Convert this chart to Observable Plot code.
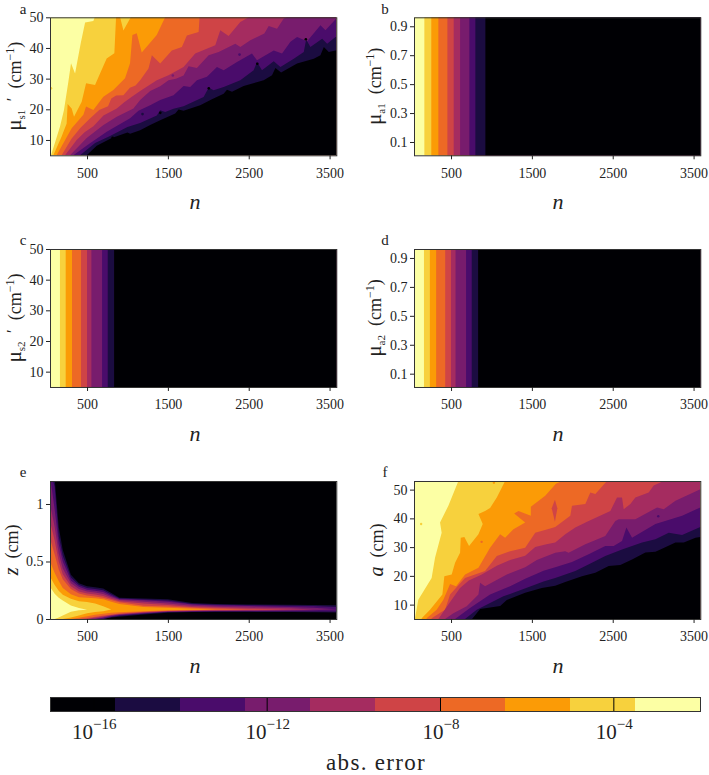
<!DOCTYPE html>
<html>
<head>
<meta charset="utf-8">
<script src="https://cdn.jsdelivr.net/npm/d3@7"></script>
<script src="https://cdn.jsdelivr.net/npm/@observablehq/plot@0.6"></script>
<style>
html,body{margin:0;padding:0;background:#fff;}
#page{position:relative;width:709px;height:775px;overflow:hidden;font-family:"Liberation Serif",serif;color:#222;}
#page svg{position:absolute;overflow:visible;background:transparent;}
#page svg text{font-family:"Liberation Serif",serif;}
</style>
</head>
<body>
<div id="page"></div>
<script>
// Band colours, darkest (lowest error) to lightest
const bandColors = ["#000004","#1b0c41","#4a0c6b","#781c6d","#a52c60","#cf4446","#ed6925","#fb9b06","#f7d13d","#fcffa4"];
const nTicks = [500,1500,2500,3500];
const nDomain = [42,3583];

// Panel a: upper edge of each band, lightest boundary first, as [n, value]
const a1 = [[55,5],[166,14.4],[215,19.8],[269,29],[302,35],[352,31.7],[422,41.5],[476,48.3],[578,48.8],[595,50]];
const a2 = [[83,5],[186,11.1],[248,15.4],[260,21.7],[310,20.3],[339,17.6],[434,22.5],[488,28.5],[599,27.9],[661,31.7],[743,36.6],[838,38.3],[859,50],[909,50],[950,45.7],[1041,50]];
const a3 = [[124,5],[310,13.8],[455,18.2],[488,20.9],[578,19.8],[702,24.1],[826,26.3],[970,30.1],[1032,35],[1061,44.2],[1115,44.8],[1177,38.5],[1362,44.2],[1466,50]];
const a4 = [[186,5],[310,10.5],[420,14],[530,16.8],[650,19.8],[760,21],[800,23.5],[860,24.5],[950,24.6],[1030,27],[1100,27.8],[1157,29.5],[1260,33.3],[1302,37.6],[1405,34.9],[1549,39.2],[1673,40.3],[1735,44.1],[1880,45.2],[1892,50]];
const a5 = [[228,5],[372,10],[470,12.5],[579,14.5],[703,18],[868,20.3],[960,22.3],[1050,24],[1157,26],[1363,29.5],[1508,31.1],[1694,33.8],[1838,38.2],[2086,40.9],[2148,45.8],[2251,43.9],[2396,48.5],[2500,50]];
const a6 = [[290,5],[496,10.6],[703,14.9],[868,17.6],[1074,20.3],[1157,23],[1281,26],[1405,27.5],[1508,29.5],[1600,30],[1694,31],[1756,34],[1859,33.5],[2004,37.6],[2128,38.7],[2334,41.4],[2396,40.3],[2520,42.5],[2693,44.7],[2747,47.2],[2850,46.3],[2933,49.6],[2974,50]];
const a7 = [[331,5],[537,8.9],[744,12.7],[888,14.9],[1033,17.1],[1136,19.5],[1281,21.3],[1405,23],[1570,24.6],[1694,27.6],[1776,27.3],[1859,29.5],[1983,30.6],[2107,33.8],[2190,32.7],[2355,35.4],[2540,38.2],[2602,36],[2809,39.2],[2912,38.2],[3016,42],[3098,43.6],[3222,42.2],[3387,47.4],[3449,45.8],[3583,49.6]];
const a8 = [[414,5],[600,9],[785,11.3],[1000,14.2],[1157,15.5],[1363,18],[1405,19.7],[1467,19.1],[1570,20.2],[1694,21],[1942,24],[2004,27],[2066,26.2],[2190,27.3],[2396,29.5],[2561,32.7],[2602,35.4],[2664,32.7],[2809,35.7],[2892,33.8],[3057,36.5],[3181,38.7],[3210,42.8],[3263,40.3],[3408,43],[3470,41.4],[3573,43.6]];
const a9 = [[496,5],[620,8.1],[806,10.6],[1000,12.4],[1033,12],[1157,13.2],[1281,14.9],[1405,16.4],[1591,18.6],[1632,19.9],[1694,19.5],[1900,21.3],[2045,23.3],[2190,25.1],[2231,26.4],[2293,25.7],[2437,27.6],[2685,29.5],[2788,31.1],[2830,33.5],[2900,32],[3098,34.9],[3305,36.5],[3387,37.6],[3429,40.3],[3490,38.7],[3573,39.2]];
const aSpecks = [[810,10.9,"#000004"],[1180,18.6,"#1b0c41"],[1400,19,"#000004"],[2000,27,"#000004"],[2600,35,"#000004"],[3200,43,"#000004"],[1555,31.2,"#781c6d"],[2380,38,"#4a0c6b"],[48,27,"#f7d13d"]];

// Panels b, c, d: n where each vertical band ends, lightest first
const bEdges = [170,256,343,455,533,612,727,801,925];
const cEdges = [165,236,314,426,500,554,686,756,835];
const dEdges = [165,238,316,428,500,556,686,756,835];

// Panel e: n grid, then upper and lower edge of each level, outermost first
const eN = [42,100,150,200,300,400,500,600,700,800,900,1200,1500,1800,2100,2500,3000,3300,3585];
const eUp1 = [1.3,1.22,.8,.6,.385,.31,.285,.275,.265,.225,.185,.178,.172,.14,.13,.127,.124,.122,.12];
const eUp2 = [1.3,1.15,.72,.55,.36,.295,.27,.26,.25,.212,.178,.17,.16,.13,.124,.12,.115,.112,.105];
const eUp3 = [1.25,.95,.65,.5,.335,.28,.255,.245,.235,.2,.172,.162,.15,.125,.118,.112,.105,.098,.085];
const eUp4 = [1,.8,.57,.44,.31,.26,.24,.23,.218,.188,.165,.15,.135,.115,.107,.1,.093,.082,.082];
const eUp5 = [.85,.68,.5,.39,.285,.24,.222,.212,.2,.175,.155,.135,.122,.105,.097,.09,.082,.082,.082];
const eUp6 = [.7,.56,.43,.345,.26,.222,.205,.195,.185,.165,.145,.115,.108,.097,.09,.082,.082,.082,.082];
const eUp7 = [.5,.4,.33,.27,.215,.19,.185,.18,.172,.15,.13,.105,.097,.09,.082,.082,.082,.082,.082];
const eUp8 = [.37,.295,.245,.21,.175,.155,.147,.134,.11,.082,.082,.082,.082,.082,.082,.082,.082,.082,.082];
const eUp9 = [.28,.22,.185,.16,.118,.095,.08,.08,.08,.08,.08,.08,.08,.08,.08,.08,.08,.08,.08];
const eLo1 = [0,0,0,0,0,0,0,0,0,.012,.02,.04,.055,.06,.062,.062,.06,.058,.056];
const eLo2 = [0,0,0,0,0,0,0,0,0,.018,.028,.046,.06,.064,.066,.066,.066,.066,.066];
const eLo3 = [0,0,0,0,0,0,0,0,.01,.024,.034,.05,.063,.067,.069,.07,.072,.076,.085];
const eLo4 = [0,0,0,0,0,0,0,.005,.016,.03,.04,.054,.066,.07,.072,.074,.078,.082,.082];
const eLo5 = [0,0,0,0,0,0,0,.012,.024,.034,.044,.058,.069,.073,.075,.078,.082,.082,.082];
const eLo6 = [0,0,0,0,0,0,.008,.02,.03,.04,.048,.062,.072,.076,.08,.082,.082,.082,.082];
const eLo7 = [0,0,0,0,0,.01,.024,.036,.046,.054,.058,.068,.076,.08,.082,.082,.082,.082,.082];
const eLo8 = [0,0,0,0,.012,.03,.05,.06,.068,.082,.082,.082,.082,.082,.082,.082,.082,.082,.082];
const eLo9 = [0,0,.012,.03,.062,.075,.08,.08,.08,.08,.08,.08,.08,.08,.08,.08,.08,.08,.08];

// Panel f: same form as panel a
const f1 = [[54,5.3],[95,11.7],[260,19.3],[302,26.3],[384,35],[364,38.6],[467,44.4],[591,53]];
const f2 = [[137,5.3],[240,8.2],[393,13.5],[417,19.9],[508,20.5],[550,24.6],[612,28],[620,33.3],[665,33.5],[723,30.4],[839,34.5],[892,38],[839,41.5],[921,42.6],[983,43.6],[1066,47.3],[1169,53]];
const f3 = [[198,5.3],[322,8.2],[405,11.7],[488,17.2],[562,16.4],[674,20.5],[839,22.8],[983,29.8],[1107,34.5],[1169,33.3],[1272,36.2],[1417,38.6],[1281,41.7],[1334,42.6],[1487,40.9],[1487,44],[1665,47.9],[1797,52],[1871,53]];
const f4 = [[260,5.3],[426,8.2],[488,13.5],[673,19.3],[921,21.7],[1066,26.9],[1231,28.6],[1417,29.8],[1541,35],[1727,36.5],[1789,37],[1975,40.9],[1996,44.4],[2161,45],[2223,49],[2285,48.5],[2429,53]];
const f5 = [[343,5],[467,10],[611,15.8],[720,18.4],[880,20.5],[1066,23.5],[1231,25.5],[1417,27],[1541,30],[1680,31],[1789,31.6],[1913,34.5],[2037,36.8],[2202,39.1],[2471,42.6],[2553,47.3],[2615,47.3],[2636,43.2],[2718,45],[2780,47.3],[2945,49],[3007,51.4],[3131,53]];
const f6 = [[426,5],[529,7],[694,9.4],[839,13.5],[859,17.6],[921,16.4],[1190,20.5],[1417,23],[1561,25.5],[1789,28],[1913,28.6],[1954,28],[2161,31],[2408,33.9],[2532,39.1],[2574,39.7],[2780,39.7],[3049,43.8],[3131,43.2],[3276,46.1],[3583,50.1]];
const f7 = [[550,5],[735,8.8],[983,13.5],[1231,16.4],[1417,19],[1644,21.8],[1789,23],[1996,24.8],[2202,27.5],[2408,30.4],[2512,30.4],[2615,32.1],[2669,36.8],[2739,33.3],[3028,38],[3358,40.9],[3583,43.8]];
const f8 = [[673,5],[818,8.2],[983,10.6],[1148,12.9],[1355,15],[1644,18],[1789,19.3],[2037,21.7],[2243,24.6],[2408,26.9],[2615,29.2],[2863,31.6],[3028,32.7],[3193,35],[3358,34.2],[3583,37]];
const f9 = [[760,5],[860,8.5],[1108,9.5],[1190,11.6],[1417,14.1],[1623,15.8],[1789,16.6],[1913,17.9],[2119,19.9],[2285,21.1],[2450,23.4],[2594,23.8],[2739,25.7],[2904,28.1],[3028,28.4],[3090,29.2],[3276,31.6],[3379,31.6],[3524,33.3],[3583,33.5]];
const fSpecks = [[124,38.2,"#f7d13d"],[1024,52.6,"#fb9b06"],[872,32,"#ed6925"],[3057,40.9,"#4a0c6b"]];
const fBlobN = [1745,1785,1815];
const fBlobLo = [43.5,38.8,43.5];
const fBlobHi = [43.5,46.5,43.5];

// Colour bar
const barEdges = [-17,-15.5,-14,-12.5,-11,-9.5,-8,-6.5,-5,-3.5,-2];
const barTicks = [-16,-12,-8,-4];

const page = document.getElementById("page");
const plotStyle = {background:"transparent",overflow:"visible",color:"#222",fontFamily:"'Liberation Serif',serif",fontSize:"14px"};

function place(svg, left, top){
  svg.style.left = left+"px"; svg.style.top = top+"px";
  page.appendChild(svg);
}
function addText(svg, parts, x, y, opt={}){
  const t = d3.select(svg).append("text")
    .attr("transform", `translate(${x},${y}) rotate(${opt.rotate||0})`)
    .attr("text-anchor", opt.anchor||"middle")
    .attr("fill","#222")
    .attr("font-size", opt.size||18)
    .style("white-space","pre");
  if(opt.spacing) t.attr("letter-spacing",opt.spacing);
  let shift = 0;
  for(const p of parts){
    const s = t.append("tspan").text(p.t);
    if(p.size) s.attr("font-size",p.size);
    if(p.italic) s.attr("font-style","italic");
    const target = p.dy||0;
    s.attr("dy", target-shift);
    shift = target;
  }
}
const mu = (sub, prime) => [{t:"μ",size:21},{t:sub,size:11,dy:4}].concat(prime?[{t:"  ′",size:17,dy:-3}]:[]).concat([{t:"  (cm",size:18},{t:"−1",size:12,dy:-7},{t:")",size:18}]);

function panel(o){
  const left = o.col===0 ? 0 : 360, ml = o.col===0 ? 50 : 54;
  const w = ml+286.3+10;
  const marks = [...o.marks,
    Plot.frame({stroke:"#333",strokeWidth:1}),
    Plot.axisX({ticks:nTicks,tickSize:4,tickPadding:8,label:null,fontSize:14,tickFormat:d=>String(d)}),
    Plot.axisY({ticks:o.yTicks,tickSize:4,tickPadding:3,label:null,fontSize:14,tickFormat:d=>String(d)})
  ];
  const svg = Plot.plot({
    width:w, height:o.marginTop+138+50,
    marginLeft:ml, marginRight:10, marginTop:o.marginTop, marginBottom:50,
    x:{domain:nDomain}, y:{domain:o.yDomain},
    style:plotStyle,
    marks
  });
  place(svg,left,o.top);
  addText(svg,o.label,o.lx||20,o.marginTop+69,{rotate:-90});
  addText(svg,[{t:o.letter}],o.col===0?23:25,o.marginTop-3.5,{size:15});
  addText(svg,[{t:"n",italic:true}],ml+143+(o.col===0?2:1),o.marginTop+138+54,{size:22});
}
function baseRect(color,yDomain){
  return Plot.rect([0],{x1:()=>nDomain[0],x2:()=>nDomain[1],y1:()=>yDomain[0],y2:()=>yDomain[1],fill:color});
}
function curveMarks(curves,yDomain){
  const marks=[baseRect(bandColors[9],yDomain)];
  curves.forEach((c,i)=>{
    const pts=[...c,[nDomain[1],c[c.length-1][1]]];
    marks.push(Plot.area(pts,{x1:d=>d[0],y1:()=>yDomain[0],y2:d=>d[1],fill:bandColors[8-i],clip:true}));
  });
  return marks;
}
function edgeMarks(edges,yDomain){
  const marks=[baseRect(bandColors[9],yDomain)];
  edges.forEach((e,i)=>{
    marks.push(Plot.rect([0],{x1:()=>e,x2:()=>nDomain[1],y1:()=>yDomain[0],y2:()=>yDomain[1],fill:bandColors[8-i]}));
  });
  return marks;
}
function speckMark(list,r){
  return Plot.dot(list,{x:d=>d[0],y:d=>d[1],r,fill:d=>d[2],clip:true});
}

const aDom=[5,50], bDom=[0.008,0.962], eDom=[0,1.2], fDom=[5,53];
const Y_10=[10,20,30,40,50], Y_A=[0.1,0.3,0.5,0.7,0.9];

panel({col:0,top:0,marginTop:17.3,yDomain:aDom,yTicks:Y_10,letter:"a",label:mu("s1",true),lx:21,
  marks:[...curveMarks([a1,a2,a3,a4,a5,a6,a7,a8,a9],aDom),speckMark(aSpecks,1.3)]});
panel({col:1,top:0,marginTop:17.3,yDomain:bDom,yTicks:Y_A,letter:"b",label:mu("a1",false),lx:21,
  marks:edgeMarks(bEdges,bDom)});
panel({col:0,top:232,marginTop:17,yDomain:aDom,yTicks:Y_10,letter:"c",label:mu("s2",true),lx:21,
  marks:edgeMarks(cEdges,aDom)});
panel({col:1,top:232,marginTop:17,yDomain:bDom,yTicks:Y_A,letter:"d",label:mu("a2",false),lx:21,
  marks:edgeMarks(dEdges,bDom)});

const eUps=[eUp1,eUp2,eUp3,eUp4,eUp5,eUp6,eUp7,eUp8,eUp9];
const eLos=[eLo1,eLo2,eLo3,eLo4,eLo5,eLo6,eLo7,eLo8,eLo9];
panel({col:0,top:464,marginTop:17,yDomain:eDom,yTicks:[0,0.5,1],letter:"e",
  label:[{t:"z",italic:true,size:20},{t:"  (cm)",size:18}],lx:18,
  marks:[baseRect(bandColors[0],eDom),...eUps.map((up,i)=>Plot.area(eN,{
    x1:d=>d,y1:(d,j)=>eLos[i][j],y2:(d,j)=>up[j],fill:bandColors[i+1],clip:true}))]});

panel({col:1,top:464,marginTop:17,yDomain:fDom,yTicks:Y_10,letter:"f",
  label:[{t:"a",italic:true,size:20},{t:"  (cm)",size:18}],lx:23,
  marks:[...curveMarks([f1,f2,f3,f4,f5,f6,f7,f8,f9],fDom),
    Plot.area(fBlobN,{x1:d=>d,y1:(d,j)=>fBlobLo[j],y2:(d,j)=>fBlobHi[j],fill:bandColors[5],clip:true}),
    speckMark(fSpecks,1.2)]});

// Colour bar
const bandRows = bandColors.map((c,i)=>({c,lo:barEdges[i],hi:barEdges[i+1]}));
const bar = Plot.plot({
  width:709,height:95,marginLeft:50,marginRight:9,marginTop:17,marginBottom:64,
  x:{domain:[-17,-2]},y:{domain:[0,1]},
  style:plotStyle,
  marks:[
    Plot.rect(bandRows,{x1:"lo",x2:"hi",y1:()=>0,y2:()=>1,fill:"c"}),
    Plot.ruleX(barTicks,{y1:()=>0,y2:()=>1,stroke:"#000004",strokeWidth:1}),
    Plot.frame({stroke:"#333",strokeWidth:1}),
    Plot.axisX({ticks:[],label:null}),
    Plot.axisY({ticks:[],label:null})
  ]
});
place(bar,0,680);
const xs = bar.scale("x");
barTicks.forEach(v=>{
  addText(bar,[{t:"10",size:21},{t:"−"+Math.abs(v),size:15,dy:-10}],xs.apply(v)+1,59,{size:21});
});
addText(bar,[{t:"abs. error"}],376,90,{size:23,spacing:1.3});
</script>
</body>
</html>
